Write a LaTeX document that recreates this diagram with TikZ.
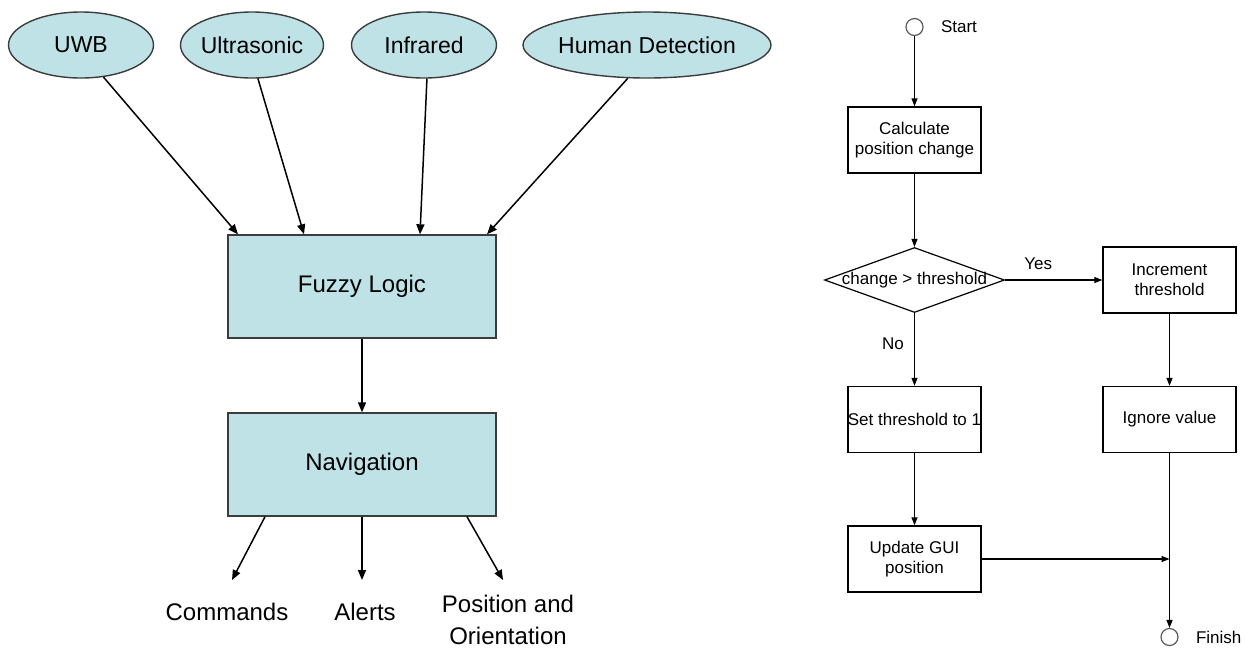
\documentclass[tikz,border=0pt]{standalone}
\usepackage{fontspec}
\setmainfont{Liberation Sans}
\usetikzlibrary{arrows.meta,shapes.geometric,positioning}

\definecolor{boxblue}{HTML}{BEE2E6}
\definecolor{edgegray}{HTML}{3C3C3C}

\tikzset{
  sensorfont/.style={font=\fontsize{11.5}{14}\selectfont,inner sep=0pt},
  sensor/.style={ellipse,draw=edgegray,fill=boxblue,line width=0.7pt,minimum height=33pt,inner sep=0pt,label={[sensorfont]center:#1}},
  block/.style={rectangle,draw=edgegray,fill=boxblue,line width=0.7pt,minimum width=134pt,minimum height=51.5pt,font=\fontsize{12}{14}\selectfont},
  outlabel/.style={align=center,inner sep=0pt,font=\fontsize{12}{16}\selectfont},
  flowtext/.style={inner sep=0pt,font=\fontsize{8.5}{10}\selectfont},
  flowbox/.style={rectangle,draw,line width=0.7pt,minimum width=66.5pt,minimum height=33pt,align=center,inner sep=0pt,font=\fontsize{8.5}{10}\selectfont},
  decision/.style={diamond,draw,line width=0.6pt,minimum width=90pt,minimum height=32.5pt,inner sep=0pt,label={[flowtext]center:#1}},
  terminal/.style={circle,draw=black!65,line width=0.6pt,minimum size=8.5pt,inner sep=0pt},
  bigarrow/.style={-{Triangle[length=5pt,width=4pt]},line width=0.75pt,draw=black},
  smallarrow/.style={-{Triangle[length=4pt,width=3pt]},line width=0.6pt}
}

\begin{document}
\begin{tikzpicture}[x=0.5pt,y=-0.5pt]
\useasboundingbox (0,0) rectangle (1247,650);

\begin{scope}
\node [sensor=UWB,minimum width=72.5pt] (uwb) at (81,45) {};
\node [sensor=Ultrasonic,minimum width=71.5pt] (ultra) at (252,45) {};
\node [sensor=Infrared,minimum width=72.5pt] (infra) at (424,45) {};
\node [sensor=Human Detection,minimum width=124pt] (human) at (647,45) {};

\node [block] (fuzzy) at (362,286.5) {Fuzzy Logic};
\node [block] (nav) at (362,464.5) {Navigation};

\coordinate (cmdtip) at (232,580);
\coordinate (alerttip) at (362,580);
\coordinate (postip) at (503,580);

\node [outlabel] (cmd) at (227,611.5) {Commands};
\node [outlabel] (alerts) at (365,611.5) {Alerts};
\node [outlabel] (posor) at (508,620) {Position and\\Orientation};
\end{scope}

\draw [bigarrow] (uwb.-55) -- ([xshift=-62pt]fuzzy.north);
\draw [bigarrow] (ultra.-80) -- ([xshift=-29pt]fuzzy.north);
\draw [bigarrow] (infra.-85) -- ([xshift=29pt]fuzzy.north);
\draw [bigarrow] (human.-120) -- ([xshift=62.5pt]fuzzy.north);
\draw [bigarrow] (fuzzy) -- (nav);
\draw [bigarrow] ([xshift=-48.5pt]nav.south) -- (cmdtip);
\draw [bigarrow] (nav.south) -- (alerttip);
\draw [bigarrow] ([xshift=52.5pt]nav.south) -- (postip);

\begin{scope}
\node [terminal] (start) at (914.5,27) {};
\node [flowtext,right=8.5pt of start] (starttxt) {Start};
\node [flowbox] (calc) at (914.5,140) {Calculate\\position change};
\node [decision=change > threshold] (cmp) at (914.5,280) {};
\node [flowbox] (incr) at (1169.5,280) {Increment\\threshold};
\node [flowbox] (reset) at (914.5,419.5) {Set threshold to 1};
\node [flowbox] (ignore) at (1169.5,419.5) {Ignore value};
\node [flowbox] (gui) at (914.5,559) {Update GUI\\position};
\node [terminal] (finish) at (1169.5,637) {};
\node [flowtext,right=8.5pt of finish] (finishtxt) {Finish};
\end{scope}

\draw [smallarrow] (start) -- (calc);
\draw [smallarrow] (calc) -- (cmp);
\draw [smallarrow] (cmp) -- node [flowtext,pos=0.34,above=5pt] (yes) {Yes} (incr);
\draw [smallarrow] (cmp) -- node [flowtext,pos=0.42,left=5pt] (no) {No} (reset);
\draw [smallarrow] (incr) -- (ignore);
\draw [smallarrow] (reset) -- (gui);
\draw [smallarrow] (ignore) -- (finish);
\draw [smallarrow] (gui.east) -- (gui.east -| ignore.south);

\end{tikzpicture}
\end{document}
